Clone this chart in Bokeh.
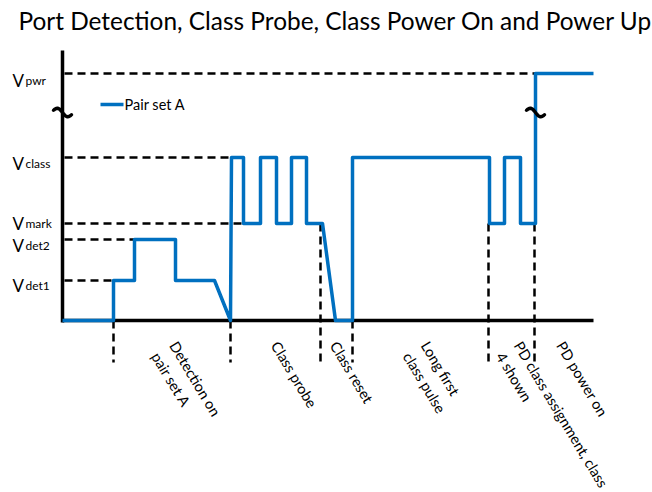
import numpy as np
from bokeh.plotting import figure
from bokeh.models import Range1d, Label
from bokeh.core.properties import value
from bokeh.embed import file_html
from bokeh.resources import INLINE

# ---- data (schematic units: time ticks, level heights) ----
level_names = ["pwr", "class", "mark", "det2", "det1"]
level_values = [247, 163, 97, 81, 40]
level_dash_end = [473, 170, 181, 72, 51]      # where each guide line meets the waveform

wave_t = [0, 51, 51, 72, 72, 113, 113, 152, 168, 169, 181, 181, 198, 198, 214, 214, 229, 229,
          244, 244, 260, 273, 290, 290, 427, 427, 442, 442, 458, 458, 473, 473, 531]
wave_v = [0, 0, 40, 40, 81, 81, 40, 40, 0, 163, 163, 97, 97, 163, 163, 97, 97, 163,
          163, 97, 97, 0, 0, 163, 163, 97, 97, 163, 163, 97, 97, 247, 247]

phase_bounds = [51, 168, 258, 290, 426, 472]
phase_bound_top = [0, 0, 97, 0, 97, 97]
plot_end = 531
phase_labels = ["Detection on\npair set A", "Class probe", "Class reset",
                "Long first\nclass pulse", "PD class assignment, class\n4 shown", "PD power on"]
break_level = 208
series_name = "Pair set A"
title_text = "Port Detection, Class Probe, Class Power On and Power Up"

BLUE = "#0070C0"
FONT = value("Lato")

p = figure(width=652, height=492, x_range=Range1d(-62, 590), y_range=Range1d(-172, 320),
           output_backend="svg", toolbar_location=None, x_axis_type=None, y_axis_type=None,
           min_border=0, min_border_left=0, min_border_right=0, min_border_top=0,
           min_border_bottom=0, outline_line_color=None)

# guide lines
p.segment(x0=[2] * len(level_values), y0=level_values, x1=level_dash_end, y1=level_values,
          line_color="black", line_width=2.5, line_dash="8 5")
p.segment(x0=phase_bounds, y0=phase_bound_top, x1=phase_bounds, y1=[-42] * len(phase_bounds),
          line_color="black", line_width=2.5, line_dash="8 5")

# axes
p.line([0, 0], [-2, 270], line_color="black", line_width=3.5)
p.line([0, plot_end], [0, 0], line_color="black", line_width=3.5)

# waveform
p.line(wave_t, wave_v, line_color=BLUE, line_width=3.5, line_join="round")

# break marks
u = np.linspace(-9, 9, 31)
for cx in [0, wave_t[-2]]:
    p.line(cx + u, break_level - 3.0 * np.sin(np.pi * u / 9) - 0.25 * u,
           line_color="black", line_width=3.5, line_cap="round")

# level labels
lab_offsets = [-7, -6, 0, -6, -5]
ys = [v + o for v, o in zip(level_values, lab_offsets)]
p.text(x=[-50] * 5, y=ys, text=["V"] * 5,
       text_font=FONT, text_font_size="17px", text_baseline="alphabetic", text_align="left",
       text_color="black")
p.text(x=[-37] * 5, y=ys, text=level_names,
       text_font=FONT, text_font_size="12px", text_baseline="alphabetic", text_align="left",
       text_color="black")

# phase labels (each line drawn separately, stacked perpendicular to the text direction)
ang = np.deg2rad(-59)
perp_up = (-np.sin(ang), np.cos(ang))   # data-space "up" direction of the rotated text
line_gap = 21
shift_up = 8
label_nudge = [2, 0, -2, 5, 7, -3]
mids = [(a + b) / 2 for a, b in zip(phase_bounds, phase_bounds[1:] + [plot_end])]
lx, ly, lt = [], [], []
for m, n, lab in zip(mids, label_nudge, phase_labels):
    for i, part in enumerate(lab.split("\n")):
        d = i * line_gap - shift_up
        lx.append(m + n - d * perp_up[0])
        ly.append(-22 - d * perp_up[1])
        lt.append(part)
p.text(x=lx, y=ly, text=lt, angle=ang,
       text_font=FONT, text_font_size="14.6px", text_baseline="top", text_align="left",
       text_color="black")

# legend
p.line([38, 61], [216, 216], line_color=BLUE, line_width=3.5)
p.add_layout(Label(x=62, y=216, text=series_name, text_font="Lato", text_font_size="14.5px",
                   text_baseline="middle", text_color="black"))

# title
p.add_layout(Label(x=-44, y=300, text=title_text, text_font="Lato", text_font_size="24.4px",
                   text_baseline="alphabetic", text_color="black"))

open("out.html", "w").write(file_html(p, INLINE))
